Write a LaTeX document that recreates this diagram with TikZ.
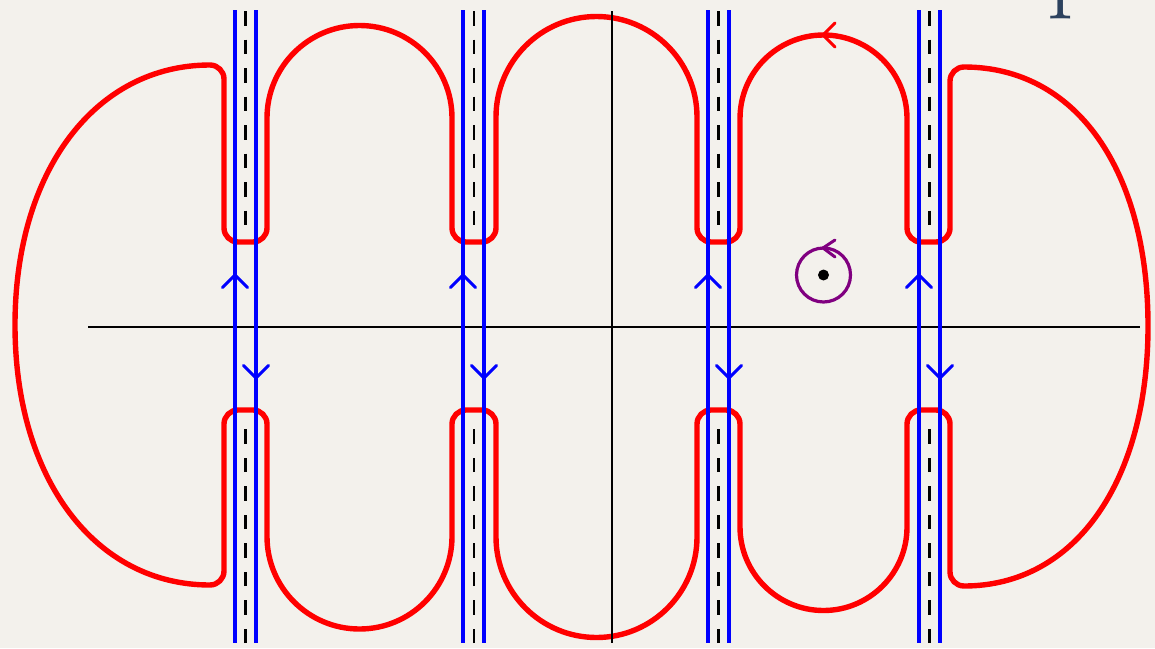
\documentclass[tikz,border=0pt]{standalone}
\usetikzlibrary{calc}
\definecolor{paper}{RGB}{243,241,236}
\definecolor{titleblue}{RGB}{44,66,94}
\definecolor{cpurple}{RGB}{128,0,128}
\begin{document}
\begin{tikzpicture}[x=1pt,y=-1pt,
  contour/.style={draw=red,line width=5.4pt,line join=round},
  cut/.style={draw=blue,line width=3.5pt},
  branch/.style={draw=black,line width=2.5pt,dash pattern=on 14.5pt off 14pt},
  axis/.style={draw=black,line width=1.3pt},
  chev/.style={line width=3pt,line cap=round,line join=miter}]
\useasboundingbox (0,0) rectangle (1155,648);
\fill[paper] (0,0) rectangle (1155,648);
% partially visible title letter
\node[anchor=base west,inner sep=0pt,text=titleblue,font=\fontsize{105}{105}\selectfont] (ttl) at (1047,-2) {p};
% red contour
\path[contour] (224,150) -- (224,228)
  .. controls (224,235.7) and (230.3,242) .. (238,242) -- (253,242)
  .. controls (260.7,242) and (267,235.7) .. (267,228) -- (267,118)
  .. controls (267,66.9) and (308.4,25.5) .. (359.5,25.5)
  .. controls (410.6,25.5) and (452,66.9) .. (452,118)
  -- (452,228)
  .. controls (452,235.7) and (458.3,242) .. (466,242) -- (482,242)
  .. controls (489.7,242) and (496,235.7) .. (496,228) -- (496,117)
  .. controls (496,61.5) and (541,16.5) .. (596.5,16.5)
  .. controls (652,16.5) and (697,61.5) .. (697,117)
  -- (697,228)
  .. controls (697,235.7) and (703.3,242) .. (711,242) -- (726,242)
  .. controls (733.7,242) and (740,235.7) .. (740,228) -- (740,118.5)
  .. controls (740,72.4) and (777.4,35) .. (823.5,35)
  .. controls (869.6,35) and (907,72.4) .. (907,118.5)
  -- (907,228)
  .. controls (907,235.7) and (913.3,242) .. (921,242) -- (936,242)
  .. controls (943.7,242) and (950,235.7) .. (950,228) -- (950,81)
  .. controls (950,73.3) and (956.3,67) .. (964,67)
  .. controls (1076,67) and (1148,170) .. (1148,326)
  .. controls (1148,480) and (1076,586) .. (964,586)
  .. controls (956.3,586) and (950,579.7) .. (950,572) -- (950,424)
  .. controls (950,416.3) and (943.7,410) .. (936,410) -- (921,410)
  .. controls (913.3,410) and (907,416.3) .. (907,424) -- (907,527)
  .. controls (907,573.1) and (869.6,610.5) .. (823.5,610.5)
  .. controls (777.4,610.5) and (740,573.1) .. (740,527)
  -- (740,424)
  .. controls (740,416.3) and (733.7,410) .. (726,410) -- (711,410)
  .. controls (703.3,410) and (697,416.3) .. (697,424) -- (697,537)
  .. controls (697,592.5) and (652,637.5) .. (596.5,637.5)
  .. controls (541,637.5) and (496,592.5) .. (496,537)
  -- (496,424)
  .. controls (496,416.3) and (489.7,410) .. (482,410) -- (466,410)
  .. controls (458.3,410) and (452,416.3) .. (452,424) -- (452,536.5)
  .. controls (452,587.6) and (410.6,629) .. (359.5,629)
  .. controls (308.4,629) and (267,587.6) .. (267,536.5)
  -- (267,424)
  .. controls (267,416.3) and (260.7,410) .. (253,410) -- (238,410)
  .. controls (230.3,410) and (224,416.3) .. (224,424) -- (224,571)
  .. controls (224,578.7) and (217.7,585) .. (210,585)
  .. controls (96,585) and (15,480) .. (15,325)
  .. controls (15,170) and (96,65) .. (210,65)
  .. controls (217.7,65) and (224,71.3) .. (224,79) -- cycle;
% red orientation arrow
\draw[red,chev] (835,23) -- (823,35) -- (835,47);
% axes
\coordinate (hl) at (88,327); \coordinate (hr) at (1140,327);
\coordinate (vt) at (612,11); \coordinate (vb) at (612,643);
\draw[axis] (hl) -- (hr);
\draw[axis] (vt) -- (vb);
% cuts
\foreach \xa/\xb/\xc in {235/256/245.5,463/484/474,708/729/718.5,919/940/929.5}{
  \draw[cut] (\xa,10) -- (\xa,643);
  \draw[cut] (\xb,10) -- (\xb,643);
  \draw[branch] (\xc,11) -- (\xc,236);
  \draw[branch] (\xc,643) -- (\xc,421);
  \draw[blue,chev] (\xa-12.5,287.5) -- (\xa,275) -- (\xa+12.5,287.5);
  \draw[blue,chev] (\xb-12.5,365.5) -- (\xb,378) -- (\xb+12.5,365.5);
}
% small loop around the point
\node[circle,fill=black,minimum size=11pt,inner sep=0pt] (pt) at (823.5,275) {};
\draw[cpurple,line width=3.2pt] (pt) circle[radius=27pt];
\draw[cpurple,chev] (835,240) -- (823,248) -- (835,257);
\end{tikzpicture}
\end{document}
